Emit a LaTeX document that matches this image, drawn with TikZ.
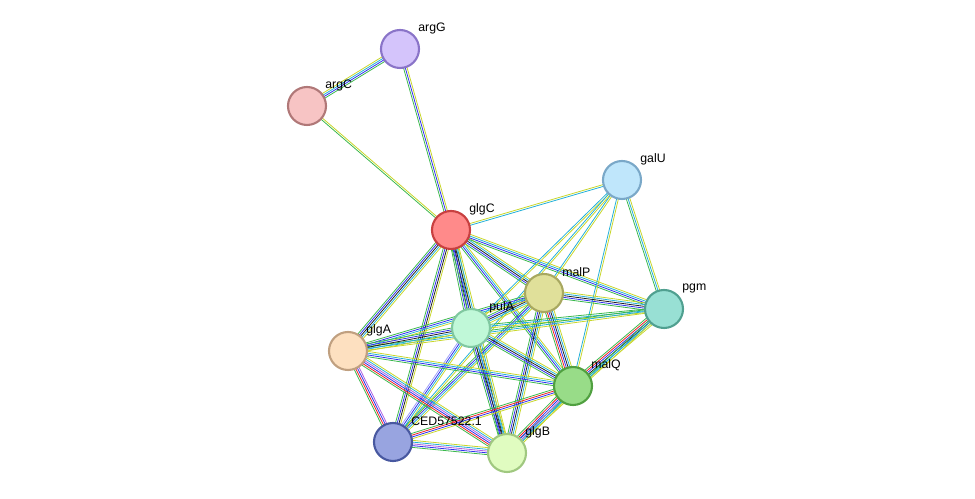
\documentclass[tikz,border=0pt]{standalone}
\usepackage{fontspec}
\setmainfont{Liberation Sans}
\usetikzlibrary{calc,backgrounds}
\definecolor{cg}{HTML}{3BB84C}\definecolor{cb}{HTML}{3030F0}\definecolor{cy}{HTML}{C8D62A}
\definecolor{cc}{HTML}{22B0D8}\definecolor{ck}{HTML}{202020}\definecolor{cr}{HTML}{F02020}
\definecolor{cp}{HTML}{B060E0}\definecolor{cl}{HTML}{A0A0F8}
\definecolor{f1}{HTML}{D4C4FB}\definecolor{d1}{HTML}{8A74C8}
\definecolor{f2}{HTML}{F7C4C4}\definecolor{d2}{HTML}{B07878}
\definecolor{f3}{HTML}{FF8A8A}\definecolor{d3}{HTML}{C84040}
\definecolor{f4}{HTML}{BFE6FB}\definecolor{d4}{HTML}{7AA8C8}
\definecolor{f5}{HTML}{E0E09A}\definecolor{d5}{HTML}{A8A860}
\definecolor{f6}{HTML}{98E0D4}\definecolor{d6}{HTML}{50A090}
\definecolor{f7}{HTML}{C0F8D8}\definecolor{d7}{HTML}{80C8A0}
\definecolor{f8}{HTML}{FDE0C0}\definecolor{d8}{HTML}{C0A080}
\definecolor{f9}{HTML}{98DC88}\definecolor{d9}{HTML}{50A040}
\definecolor{f10}{HTML}{98A4E0}\definecolor{d10}{HTML}{4858A0}
\definecolor{f11}{HTML}{E0FCC0}\definecolor{d11}{HTML}{A0C880}
\tikzset{
 prot/.style={circle,minimum size=0.76cm,inner sep=0,line width=1.2pt},
 lab/.style={anchor=west,font=\fontsize{7}{8}\selectfont,inner sep=0}
}
\newcommand{\pnode}[6]{\node[prot,fill=#4,draw=#5] (#1) at (#2,#3) {};
 \node[lab] (#1l) at (#2+18,#3-21) {#6};}
\newcommand{\edg}[4]{% a b n colors
 \begin{pgfonlayer}{background}
 \foreach \c [count=\i] in {#4} {
  \pgfmathsetmacro{\o}{(\i-(#3+1)/2)*1.0}
  \draw[\c,line width=0.45pt] ($(#1)!\o pt!90:(#2)$) -- ($(#2)!\o pt!-90:(#1)$);
 }
 \end{pgfonlayer}}
\begin{document}
\begin{tikzpicture}[x=0.02cm,y=-0.02cm]
\useasboundingbox (0,0) rectangle (975,499);
\pnode{argG}{400}{49}{f1}{d1}{argG}
\pnode{argC}{307}{106}{f2}{d2}{argC}
\pnode{glgC}{451}{230}{f3}{d3}{glgC}
\pnode{galU}{622}{180}{f4}{d4}{galU}
\pnode{malP}{544}{293}{f5}{d5}{malP}
\pnode{pgm}{664}{309}{f6}{d6}{pgm}
\pnode{pulA}{471}{328}{f7}{d7}{pulA}
\pnode{glgA}{348}{351}{f8}{d8}{glgA}
\pnode{malQ}{573}{386}{f9}{d9}{malQ}
\pnode{ced}{393}{442}{f10}{d10}{CED57522.1}
\pnode{glgB}{507}{453}{f11}{d11}{glgB}
\edg{argC}{argG}{4}{cg,cb,cc,cy}
\edg{argC}{glgC}{2}{cg,cy}
\edg{argG}{glgC}{3}{cg,cb,cy}
\edg{glgC}{galU}{2}{cc,cy}
\edg{glgC}{malP}{5}{cg,cb,ck,cc,cy}
\edg{glgC}{pgm}{4}{cg,cb,cc,cy}
\edg{glgC}{pulA}{5}{cg,cb,ck,cc,cy}
\edg{glgC}{glgA}{5}{cg,cb,ck,cc,cy}
\edg{glgC}{malQ}{4}{cg,cb,cc,cy}
\edg{glgC}{ced}{4}{cg,cb,ck,cy}
\edg{glgC}{glgB}{5}{cg,cb,ck,cc,cy}
\edg{galU}{malP}{2}{cc,cy}
\edg{galU}{pgm}{3}{cg,cc,cy}
\edg{galU}{pulA}{2}{cc,cy}
\edg{galU}{malQ}{2}{cc,cy}
\edg{galU}{ced}{2}{cc,cy}
\edg{malP}{pgm}{5}{cg,cb,ck,cc,cy}
\edg{malP}{pulA}{5}{cg,cb,ck,cc,cy}
\edg{malP}{glgA}{4}{cg,cb,cc,cy}
\edg{malP}{malQ}{6}{cg,cr,cb,ck,cc,cy}
\edg{malP}{ced}{4}{cg,cb,cc,cy}
\edg{malP}{glgB}{5}{cg,cb,ck,cc,cy}
\edg{pgm}{pulA}{3}{cg,cc,cy}
\edg{pgm}{glgA}{3}{cg,cc,cy}
\edg{pgm}{malQ}{6}{cg,cr,cb,ck,cc,cy}
\edg{pgm}{glgB}{3}{cg,cc,cy}
\edg{pulA}{glgA}{5}{cg,cb,ck,cc,cy}
\edg{pulA}{malQ}{5}{cg,cb,ck,cc,cy}
\edg{pulA}{ced}{4}{cl,cb,cc,cy}
\edg{pulA}{glgB}{5}{cg,cb,ck,cc,cy}
\edg{glgA}{malQ}{4}{cg,cb,cc,cy}
\edg{glgA}{ced}{4}{cg,cr,cb,cp}
\edg{glgA}{glgB}{6}{cg,cr,cb,cp,cc,cy}
\edg{malQ}{ced}{4}{cg,cr,cb,cy}
\edg{malQ}{glgB}{6}{cg,cr,cb,cp,cc,cy}
\edg{ced}{glgB}{5}{cg,cb,cp,cc,cy}
\end{tikzpicture}
\end{document}
